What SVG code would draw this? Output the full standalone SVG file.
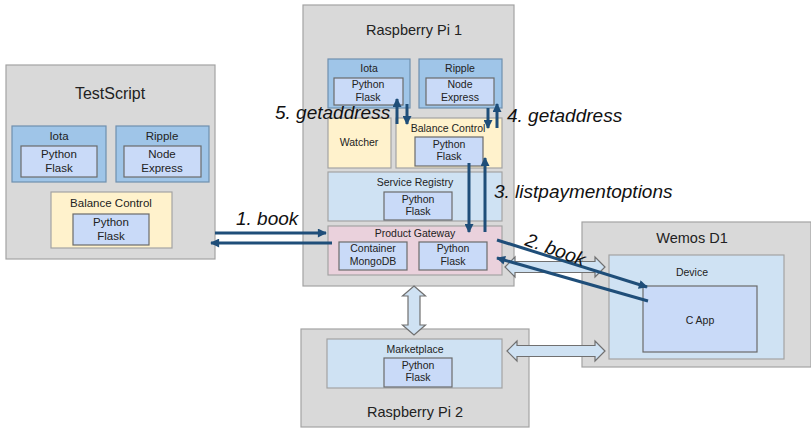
<svg xmlns="http://www.w3.org/2000/svg" width="811" height="429" viewBox="0 0 811 429">
<defs>
<style>
.host{fill:#d9d9d9;stroke:#a3a3a3;stroke-width:1.2}
.svc{fill:#9fc5e8;stroke:#6f8fae;stroke-width:1.2}
.inner{fill:#c9daf8;stroke:#6b6b6b;stroke-width:1.2}
.yel{fill:#fff2cc;stroke:#a3a3a3;stroke-width:1.2}
.lb{fill:#cfe2f3;stroke:#a3a3a3;stroke-width:1.2}
.pink{fill:#ead1dc;stroke:#a3a3a3;stroke-width:1.2}
text{font-family:"Liberation Sans",Arial,sans-serif;fill:#222;text-anchor:middle}
.t1{font-size:16px}
.t2{font-size:14.5px}
.t3{font-size:11.5px}
.t4{font-size:10.5px}
.lbl{font-size:19px;font-style:italic;text-anchor:start;fill:#111}
.dark{stroke:#1f4e79;stroke-width:3;fill:none}
.hollow{fill:#cfe2f3;stroke:#707070;stroke-width:1.2}
</style>
<marker id="ah" viewBox="0 0 10 10" refX="9" refY="5" markerWidth="10" markerHeight="9" markerUnits="userSpaceOnUse" orient="auto">
<path d="M0,0 L10,5 L0,10 Z" fill="#1f4e79"/>
</marker>
</defs>
<rect width="811" height="429" fill="#ffffff"/>

<g id="testscript">
<rect class="host" x="6" y="65" width="209" height="194"/>
<text class="t1" x="110" y="99">TestScript</text>
<g id="ts-iota">
<rect class="svc" x="12" y="126" width="94" height="56"/>
<text class="t3" x="59" y="140">Iota</text>
<rect class="inner" x="21" y="146" width="76" height="31"/>
<text class="t3" x="59" y="158">Python</text>
<text class="t3" x="59" y="172">Flask</text>
</g>
<g id="ts-ripple">
<rect class="svc" x="116" y="126" width="93" height="56"/>
<text class="t3" x="162" y="140">Ripple</text>
<rect class="inner" x="124" y="146" width="77" height="31"/>
<text class="t3" x="162" y="158">Node</text>
<text class="t3" x="162" y="172">Express</text>
</g>
<g id="ts-balance">
<rect class="yel" x="51" y="192" width="121" height="56"/>
<text class="t3" x="111" y="207">Balance Control</text>
<rect class="inner" x="73" y="214" width="76" height="31"/>
<text class="t3" x="111" y="226">Python</text>
<text class="t3" x="111" y="240">Flask</text>
</g>
</g>

<g id="rpi1">
<rect class="host" x="303" y="5" width="211" height="281"/>
<text class="t2" x="414" y="35">Raspberry Pi 1</text>
<g id="rpi1-iota">
<rect class="svc" x="328" y="59" width="82" height="49"/>
<text class="t4" x="369" y="72">Iota</text>
<rect class="inner" x="334" y="78" width="69" height="27"/>
<text class="t4" x="368" y="88">Python</text>
<text class="t4" x="368" y="101">Flask</text>
</g>
<g id="rpi1-ripple">
<rect class="svc" x="419" y="59" width="83" height="49"/>
<text class="t4" x="460" y="72">Ripple</text>
<rect class="inner" x="426" y="78" width="68" height="27"/>
<text class="t4" x="460" y="88">Node</text>
<text class="t4" x="460" y="101">Express</text>
</g>
<g id="rpi1-watcher">
<rect class="yel" x="328" y="118" width="63" height="50"/>
<text class="t4" x="359" y="146">Watcher</text>
</g>
<g id="rpi1-balance">
<rect class="yel" x="396" y="118" width="106" height="50"/>
<text class="t4" x="448" y="132">Balance Control</text>
<rect class="inner" x="415" y="137" width="68" height="29"/>
<text class="t4" x="449" y="148">Python</text>
<text class="t4" x="449" y="160">Flask</text>
</g>
<g id="rpi1-registry">
<rect class="lb" x="328" y="172" width="174" height="49"/>
<text class="t4" x="415" y="186">Service Registry</text>
<rect class="inner" x="384" y="192" width="68" height="28"/>
<text class="t4" x="418" y="203">Python</text>
<text class="t4" x="418" y="215">Flask</text>
</g>
<g id="rpi1-gateway">
<rect class="pink" x="328" y="226" width="174" height="49"/>
<text class="t4" x="415" y="237">Product Gateway</text>
<rect class="inner" x="339" y="242" width="68" height="28"/>
<text class="t4" x="373" y="252">Container</text>
<text class="t4" x="373" y="265">MongoDB</text>
<rect class="inner" x="419" y="242" width="68" height="28"/>
<text class="t4" x="453" y="252">Python</text>
<text class="t4" x="453" y="265">Flask</text>
</g>
</g>

<g id="wemos">
<rect class="host" x="582" y="222" width="229" height="145"/>
<text class="t2" x="692" y="243">Wemos D1</text>
<g id="wemos-device">
<rect class="lb" x="609" y="255" width="175" height="104"/>
<text class="t4" x="692" y="276">Device</text>
<rect class="inner" x="643" y="286" width="114" height="66"/>
<text class="t4" x="700" y="324">C App</text>
</g>
</g>

<g id="rpi2">
<rect class="host" x="301" y="329" width="228" height="98"/>
<text class="t2" x="415" y="417">Raspberry Pi 2</text>
<g id="rpi2-marketplace">
<rect class="lb" x="327" y="339" width="175" height="49"/>
<text class="t4" x="415" y="353">Marketplace</text>
<rect class="inner" x="384" y="358" width="68" height="29"/>
<text class="t4" x="418" y="369">Python</text>
<text class="t4" x="418" y="381">Flask</text>
</g>
</g>

<g id="connectors">
<path class="hollow" d="M414,286 L425.5,296 L420,296 L420,325 L425.5,325 L414,335 L402.5,325 L408,325 L408,296 L402.5,296 Z"/>
<path class="hollow" d="M505,267 L515,257 L515,261.5 L595,261.5 L595,257 L605,267 L595,277 L595,272.5 L515,272.5 L515,277 Z"/>
<path class="hollow" d="M507,351 L517,341 L517,345.5 L595,345.5 L595,341 L605,351 L595,361 L595,356.5 L517,356.5 L517,361 Z"/>
<line class="dark" x1="215" y1="233" x2="326" y2="233" marker-end="url(#ah)"/>
<line class="dark" x1="332" y1="243" x2="211" y2="243" marker-end="url(#ah)"/>
<line class="dark" x1="397" y1="124" x2="397" y2="99" marker-end="url(#ah)"/>
<line class="dark" x1="407" y1="104" x2="407" y2="124" marker-end="url(#ah)"/>
<line class="dark" x1="488" y1="108" x2="488" y2="128" marker-end="url(#ah)"/>
<line class="dark" x1="497" y1="128" x2="497" y2="104" marker-end="url(#ah)"/>
<line class="dark" x1="469" y1="163" x2="469" y2="232" marker-end="url(#ah)"/>
<line class="dark" x1="485" y1="232" x2="485" y2="158" marker-end="url(#ah)"/>
<line class="dark" x1="497" y1="240" x2="647" y2="287" marker-end="url(#ah)"/>
<line class="dark" x1="648" y1="301" x2="497" y2="258" marker-end="url(#ah)"/>
</g>

<g id="labels">
<text class="lbl" x="236" y="225">1. book</text>
<text class="lbl" x="275" y="119">5. getaddress</text>
<text class="lbl" x="507" y="122">4. getaddress</text>
<text class="lbl" x="494" y="198">3. listpaymentoptions</text>
<text class="lbl" transform="translate(524,245) rotate(20)" x="0" y="0">2. book</text>
</g>
</svg>
